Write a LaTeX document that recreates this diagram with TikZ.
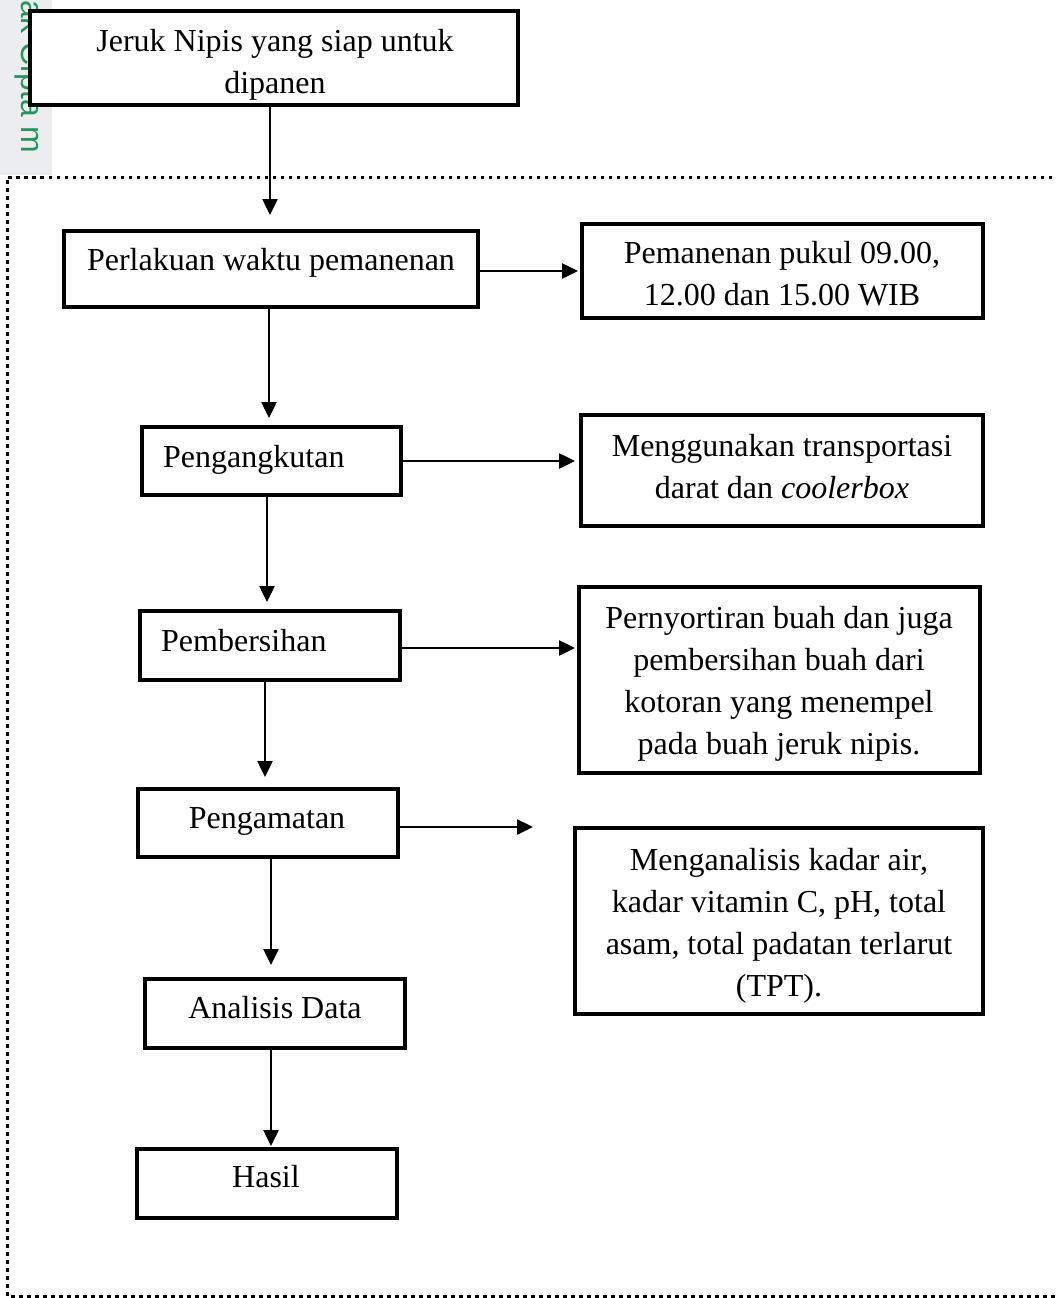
\documentclass[tikz,border=0pt]{standalone}
\usepackage{fontspec}
\setmainfont{Liberation Serif}
\newfontfamily\wmfont{Liberation Sans}
\usetikzlibrary{arrows.meta,calc}
\definecolor{wmgreen}{RGB}{34,150,96}
\definecolor{wmgray}{RGB}{236,237,239}
\begin{document}
\begin{tikzpicture}[x=1pt,y=-1pt,
  box/.style={draw=black,line width=4pt,fill=white,inner sep=0pt},
  txt/.style={inner sep=0pt,anchor=base,align=center,font=\fontsize{32}{42}\selectfont},
  arr/.style={line width=2.5pt,-{Triangle[length=16pt,width=15pt]}},
  border/.style={line width=3pt,dash pattern=on 3.5pt off 4.5pt}]
\useasboundingbox (0,0) rectangle (1057,1298);
% watermark strip
\fill[wmgray] (0,0) rectangle (52,175);
\begin{scope}
\clip (0,0) rectangle (52,175);
\node[inner sep=0pt,anchor=base west,rotate=-90,text=wmgreen,font=\wmfont\fontsize{32}{38}\selectfont] (wm) at (21,0) {ak Cipta m};
\end{scope}
% dotted frame
\draw[border] (1060,177) -- (7,177) -- (7,1296) -- (1060,1296);
% boxes
\node[box,minimum width=488pt,minimum height=94pt] (b1) at (274,58) {};
\node[box,minimum width=414pt,minimum height=76pt] (b2) at (271,269) {};
\node[box,minimum width=401pt,minimum height=94pt] (r2) at (782.5,271) {};
\node[box,minimum width=259pt,minimum height=68pt] (b3) at (271.5,461) {};
\node[box,minimum width=402pt,minimum height=111pt] (r3) at (782,470.5) {};
\node[box,minimum width=401pt,minimum height=186pt] (r4) at (779.5,680) {};
\node[box,minimum width=260pt,minimum height=69pt] (b4) at (270,645.5) {};
\node[box,minimum width=260pt,minimum height=68pt] (b5) at (268,823) {};
\node[box,minimum width=408pt,minimum height=186pt] (r5) at (779,921) {};
\node[box,minimum width=260pt,minimum height=69pt] (b6) at (275,1013.5) {};
\node[box,minimum width=260pt,minimum height=69pt] (b7) at (267,1183.5) {};
% texts (base = baseline of last line)
\node[txt] (t1) at (275,93) {Jeruk Nipis yang siap untuk\\dipanen};
\node[txt] (t2) at (271,270) {Perlakuan waktu pemanenan};
\node[txt] (tr2) at (782,305) {Pemanenan pukul 09.00,\\12.00 dan 15.00 WIB};
\node[txt,anchor=base west] (t3) at (163,467) {Pengangkutan};
\node[txt] (tr3) at (782,498) {Menggunakan transportasi\\darat dan \textit{coolerbox}};
\node[txt,anchor=base west] (t4) at (161,651) {Pembersihan};
\node[txt] (tr4) at (779,754) {Pernyortiran buah dan juga\\pembersihan buah dari\\kotoran yang menempel\\pada buah jeruk nipis.};
\node[txt] (t5) at (267,828) {Pengamatan};
\node[txt] (tr5) at (779,996) {Menganalisis kadar air,\\kadar vitamin C, pH, total\\asam, total padatan terlarut\\(TPT).};
\node[txt] (t6) at (275,1018) {Analisis Data};
\node[txt] (t7) at (266,1187) {Hasil};
% vertical arrows
\draw[arr,shorten >=14pt] ([xshift=-4pt]b1.south) -- ([xshift=-4pt]b1.south |- b2.north);
\draw[arr,shorten >=7pt] ([xshift=-2pt]b2.south) -- ([xshift=-2pt]b2.south |- b3.north);
\draw[arr,shorten >=7pt] ([xshift=-4.5pt]b3.south) -- ([xshift=-4.5pt]b3.south |- b4.north);
\draw[arr,shorten >=10pt] ([xshift=-5pt]b4.south) -- ([xshift=-5pt]b4.south |- b5.north);
\draw[arr,shorten >=12pt] ([xshift=3pt]b5.south) -- ([xshift=3pt]b5.south |- b6.north);
\draw[arr,shorten >=1pt] ([xshift=-4pt]b6.south) -- ([xshift=-4pt]b6.south |- b7.north);
% horizontal arrows
\draw[arr,shorten >=2pt] ([yshift=-2pt]b2.east) -- ([yshift=-2pt]b2.east -| r2.west);
\draw[arr,shorten >=4pt] (b3.east) -- (b3.east -| r3.west);
\draw[arr,shorten >=2pt] ([yshift=-2.5pt]b4.east) -- ([yshift=-2.5pt]b4.east -| r4.west);
\draw[arr,shorten >=40pt] ([yshift=-4pt]b5.east) -- ([yshift=-4pt]b5.east -| r5.west);
\end{tikzpicture}
\end{document}
